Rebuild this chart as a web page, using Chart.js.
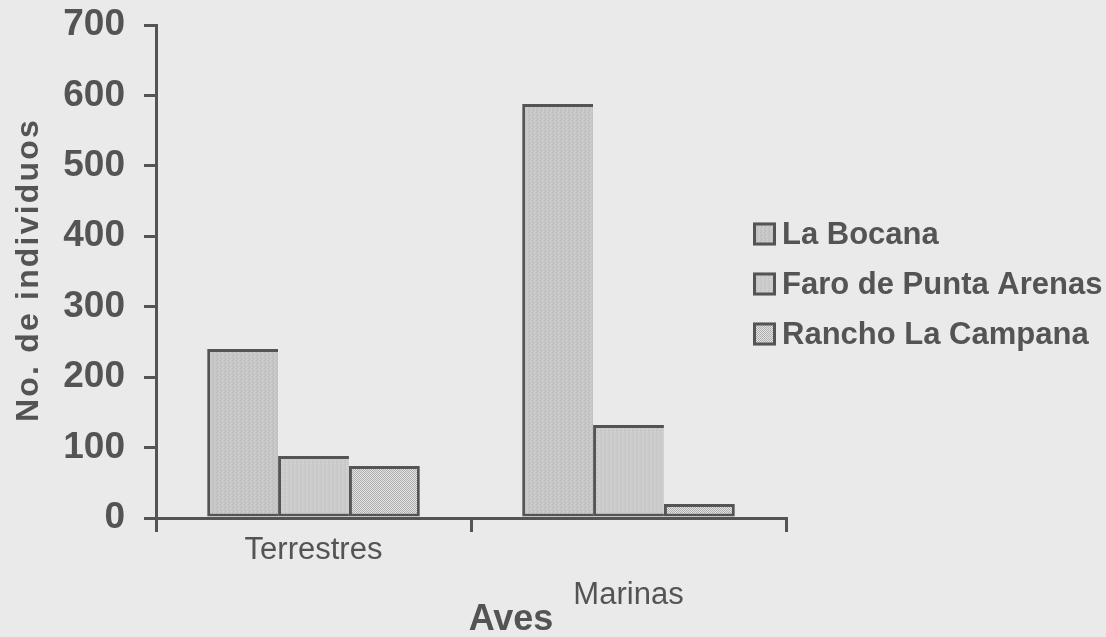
<!DOCTYPE html>
<html>
<head>
<meta charset="utf-8">
<title>No. de individuos por tipo de ave</title>
<script src="https://cdn.jsdelivr.net/npm/chart.js@4.4.1/dist/chart.umd.min.js"></script>
<style>
  html, body { margin: 0; padding: 0; background: #eaeaea; }
  #wrap { position: relative; width: 1106px; height: 637px; }
  canvas { display: block; }
</style>
</head>
<body>
<div id="wrap"><canvas id="chart" width="1106" height="637"></canvas></div>
<script>
// Bird counts per group and site
const categories = ['Terrestres', 'Marinas'];
const siteNames = ['La Bocana', 'Faro de Punta Arenas', 'Rancho La Campana'];
const laBocana = [240, 588];
const faroPuntaArenas = [88, 132];
const ranchoLaCampana = [74, 20];
const yTicks = [0, 100, 200, 300, 400, 500, 600, 700];
const yTitle = 'No. de individuos';
const xTitle = 'Aves';

const INK = '#545454';
const FONT = '"Liberation Sans", Arial, Helvetica, sans-serif';

// Small tiled fills: two grainy greys and a fine dot screen
function makePattern(size, base, dots) {
  const c = document.createElement('canvas');
  c.width = size; c.height = size;
  const g = c.getContext('2d');
  g.fillStyle = base;
  g.fillRect(0, 0, size, size);
  dots.forEach(([x, y, col]) => { g.fillStyle = col; g.fillRect(x, y, 1, 1); });
  return g.createPattern(c, 'repeat');
}
const ctx = document.getElementById('chart').getContext('2d');
const grainA = makePattern(4, '#c6c6c6', [
  [0, 0, '#bbbbbb'], [2, 1, '#cfcfcf'], [1, 2, '#bebebe'], [3, 3, '#d1d1d1'], [3, 0, '#cbcbcb'], [1, 3, '#c0c0c0']
]);
const grainB = makePattern(4, '#cbcbcb', [
  [1, 0, '#c1c1c1'], [3, 1, '#d4d4d4'], [0, 2, '#c3c3c3'], [2, 3, '#d5d5d5'], [2, 0, '#cfcfcf']
]);
const dotScreen = makePattern(2, '#e4e4e4', [
  [0, 0, '#ababab'], [1, 1, '#b0b0b0']
]);

const fills = [grainA, grainB, dotScreen];
const series = [laBocana, faroPuntaArenas, ranchoLaCampana];

const datasets = series.map((data, i) => ({
  label: siteNames[i],
  data: data,
  backgroundColor: fills[i],
  borderColor: INK,
  borderWidth: i < series.length - 1 ? { top: 3, left: 3, bottom: 3, right: 0 } : 3,
  borderSkipped: false,
  barPercentage: 1.0,
  categoryPercentage: 0.675
}));

// Axis titles and an in-plot legend
const figureText = {
  id: 'figureText',
  afterDraw(chart) {
    const c = chart.ctx;
    const area = chart.chartArea;
    c.save();
    c.fillStyle = INK;

    // vertical axis title
    c.save();
    c.translate(29, 270);
    c.rotate(-Math.PI / 2);
    c.font = 'bold 32px ' + FONT;
    if ('letterSpacing' in c) c.letterSpacing = '2.2px';
    c.textAlign = 'center';
    c.textBaseline = 'middle';
    c.fillText(yTitle, 0, 0);
    c.restore();

    // horizontal axis title
    c.font = 'bold 36px ' + FONT;
    c.textAlign = 'center';
    c.textBaseline = 'alphabetic';
    c.fillText(xTitle, (area.left + area.right) / 2 + 40, 630);

    // legend
    c.font = 'bold 31px ' + FONT;
    c.textAlign = 'left';
    c.textBaseline = 'middle';
    chart.data.datasets.forEach((ds, i) => {
      const cy = 234 + i * 50;
      const bx = 753, size = 23;
      c.fillStyle = ds.backgroundColor;
      c.fillRect(bx, cy - size / 2, size, size);
      c.strokeStyle = INK;
      c.lineWidth = 3;
      c.strokeRect(bx + 1.5, cy - size / 2 + 1.5, size - 3, size - 3);
      c.fillStyle = INK;
      c.fillText(ds.label, 782, cy + 1);
    });
    c.restore();
  }
};

new Chart(ctx, {
  type: 'bar',
  data: { labels: categories, datasets: datasets },
  plugins: [figureText],
  options: {
    responsive: false,
    animation: false,
    layout: { padding: { top: 25, right: 320, left: 0, bottom: 0 } },
    plugins: {
      legend: { display: false },
      tooltip: { enabled: false }
    },
    scales: {
      x: {
        offset: true,
        grid: {
          offset: true,
          drawOnChartArea: false,
          drawTicks: true,
          tickLength: 14,
          color: INK,
          lineWidth: 3
        },
        border: { color: INK, width: 3 },
        ticks: {
          color: INK,
          font: { family: FONT, size: 31, lineHeight: 1.45 },
          padding: -4,
          maxRotation: 0,
          autoSkip: false,
          callback: (v, i) => (i % 2 ? ['', categories[i]] : categories[i])
        },
        afterFit: (s) => { s.height = 119; s.paddingLeft = 0; s.paddingRight = 0; }
      },
      y: {
        min: yTicks[0],
        max: yTicks[yTicks.length - 1],
        afterBuildTicks: (s) => { s.ticks = yTicks.map((v) => ({ value: v })); },
        grid: {
          drawOnChartArea: false,
          drawTicks: true,
          tickLength: 12,
          color: INK,
          lineWidth: 3
        },
        border: { color: INK, width: 3 },
        ticks: {
          color: INK,
          font: { family: FONT, size: 37, weight: 'bold' },
          padding: 19
        },
        afterFit: (s) => { s.width = 156; s.paddingTop = 0; s.paddingBottom = 0; }
      }
    }
  }
});
</script>
</body>
</html>
